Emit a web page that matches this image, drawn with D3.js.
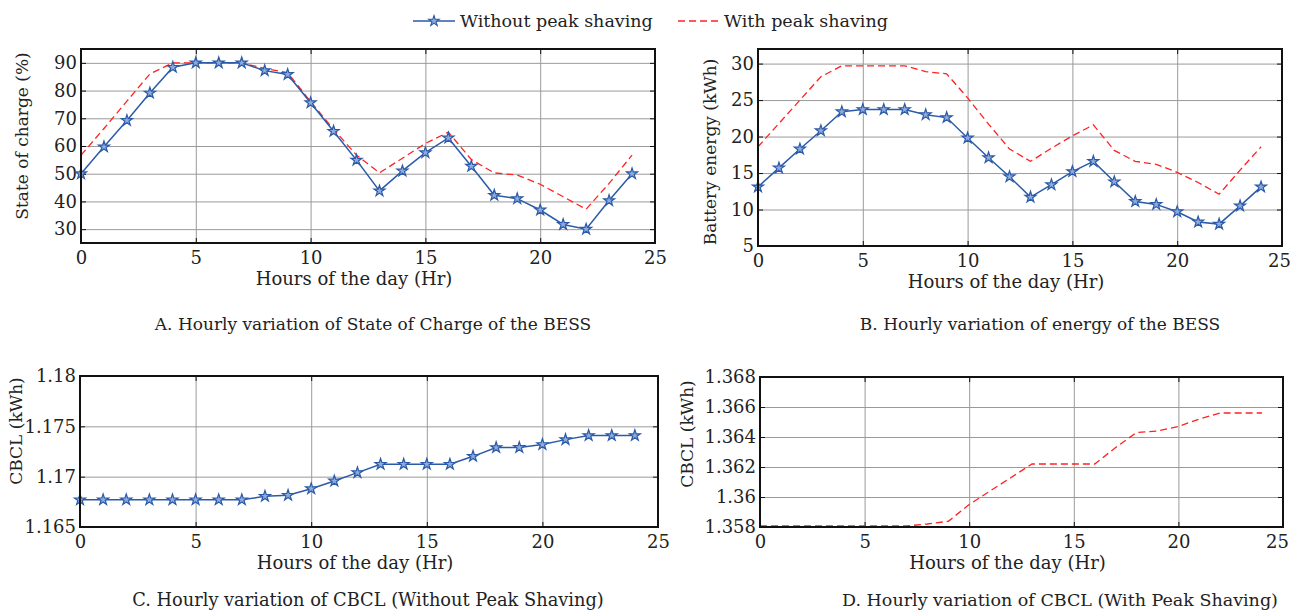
<!DOCTYPE html>
<html>
<head>
<meta charset="utf-8">
<script src="https://cdn.jsdelivr.net/npm/d3@7"></script>
<style>
  body { margin: 0; background: #fff; }
  svg { display: block; font-family: "DejaVu Serif", serif; }
</style>
</head>
<body>
<div id="container"></div>
<script>
// hours of the day
const hours = [0,1,2,3,4,5,6,7,8,9,10,11,12,13,14,15,16,17,18,19,20,21,22,23,24];

// A. state of charge (%)
const socWithout = [50.0,59.7,69.2,79.1,88.4,90.0,90.0,90.0,87.2,85.8,75.6,65.3,54.9,43.8,51.0,57.6,62.9,52.7,42.2,41.0,36.9,31.7,30.0,40.3,50.0];
const socWith    = [56.7,66.3,76.2,86.0,90.0,90.0,90.0,90.0,88.0,86.5,76.0,66.0,56.7,50.3,55.6,60.9,65.0,55.1,50.3,49.5,46.2,41.7,37.2,46.5,56.7];

// B. battery energy (kWh)
const energyWithout = [13.1,15.7,18.3,20.8,23.4,23.7,23.7,23.7,23.0,22.6,19.8,17.1,14.5,11.7,13.4,15.2,16.6,13.8,11.1,10.7,9.7,8.3,8.0,10.5,13.1];
const energyWith    = [18.6,21.8,25.0,28.2,29.7,29.7,29.7,29.7,28.9,28.6,25.3,21.7,18.3,16.6,18.4,20.1,21.6,18.1,16.6,16.2,15.1,13.7,12.1,15.4,18.6];

// C. CBCL without peak shaving (kWh)
const cbclWithout = [1.1677,1.1677,1.1677,1.1677,1.1677,1.1677,1.1677,1.1677,1.16805,1.16815,1.1688,1.16957,1.1704,1.17123,1.17123,1.17123,1.17123,1.17202,1.17289,1.1729,1.17319,1.17368,1.17408,1.17408,1.17408];
// D. CBCL with peak shaving (kWh)
const cbclWith = [1.35807,1.35807,1.35807,1.35807,1.35807,1.35807,1.35807,1.35807,1.3582,1.35838,1.3595,1.3604,1.3613,1.3622,1.3622,1.3622,1.3622,1.3633,1.3643,1.3644,1.3647,1.3652,1.3656,1.3656,1.3656];

// tick labels
const xTicks = [0,5,10,15,20,25];
const socTicks = [30,40,50,60,70,80,90];
const energyTicks = [5,10,15,20,25,30];
const cbclTicksC = [1.165,1.17,1.175,1.18];
const cbclLabelsC = ["1.165","1.17","1.175","1.18"];
const cbclTicksD = [1.358,1.36,1.362,1.364,1.366,1.368];
const cbclLabelsD = ["1.358","1.36","1.362","1.364","1.366","1.368"];

const width = 1292, height = 610;
const blue = "#2b5aa8", red = "#ff2222", textCol = "#222";

const svg = d3.select("#container").append("svg")
    .attr("width", width).attr("height", height)
    .attr("viewBox", `0 0 ${width} ${height}`);

function drawPanel(p) {
    const x = d3.scaleLinear().domain([0, 25]).range([p.left, p.right]);
    const y = d3.scaleLinear().domain(p.yDomain).range([p.bottom, p.top]);
    const g = svg.append("g");
    const h = p.bottom - p.top, w = p.right - p.left;

    // grid
    g.append("g").attr("transform", `translate(0,${p.bottom})`)
        .call(d3.axisBottom(x).tickValues(xTicks).tickSize(-h).tickFormat(""))
        .call(s => s.select(".domain").remove())
        .selectAll("line").attr("stroke", "#9a9a9a").attr("stroke-width", 1);
    g.append("g").attr("transform", `translate(${p.left},0)`)
        .call(d3.axisLeft(y).tickValues(p.yTicks).tickSize(-w).tickFormat(""))
        .call(s => s.select(".domain").remove())
        .selectAll("line").attr("stroke", "#9a9a9a").attr("stroke-width", 1);

    // axes with inward ticks
    const xa = g.append("g").attr("transform", `translate(0,${p.bottom})`)
        .call(d3.axisBottom(x).tickValues(xTicks).tickSize(-5).tickPadding(8).tickFormat(d3.format("d")));
    const ya = g.append("g").attr("transform", `translate(${p.left},0)`)
        .call(d3.axisLeft(y).tickValues(p.yTicks).tickSize(-5).tickPadding(4)
            .tickFormat((d, i) => p.yLabels ? p.yLabels[i] : d));
    g.append("g").attr("transform", `translate(0,${p.top})`)
        .call(d3.axisTop(x).tickValues(xTicks).tickSize(-5).tickFormat(""));
    g.append("g").attr("transform", `translate(${p.right},0)`)
        .call(d3.axisRight(y).tickValues(p.yTicks).tickSize(-5).tickFormat(""));
    g.selectAll(".domain").attr("stroke", "none");
    g.selectAll(".tick text").attr("fill", textCol).style("font-family", "DejaVu Serif").style("font-size", "18px");
    xa.selectAll(".tick text").filter(d => d === 25).attr("dx", p.lastDx || 0);
    g.selectAll(".tick line").filter(function () { return +d3.select(this).attr("stroke-width") !== 1; })
        .attr("stroke", "#111");

    // series
    const line = vals => d3.line().x((d, i) => x(hours[i])).y(d => y(d))(vals);
    if (p.red) {
        g.append("path").attr("d", line(p.red)).attr("fill", "none")
            .attr("stroke", red).attr("stroke-width", 1.3).attr("stroke-dasharray", "7,4");
    }
    if (p.blue) {
        g.append("path").attr("d", line(p.blue)).attr("fill", "none")
            .attr("stroke", blue).attr("stroke-width", 1.5);
        g.selectAll(".star").data(p.blue).enter().append("path")
            .attr("transform", (d, i) => `translate(${x(hours[i])},${y(d)})`)
            .attr("d", d3.symbol(d3.symbolStar).size(38))
            .attr("fill", "#8fabdd").attr("stroke", blue).attr("stroke-width", 1.2);
    }

    // frame
    g.append("rect").attr("x", p.left).attr("y", p.top).attr("width", w).attr("height", h)
        .attr("fill", "none").attr("stroke", "#111").attr("stroke-width", 2);

    // labels
    g.append("text").attr("x", (p.left + p.right) / 2 - 14).attr("y", p.bottom + 42)
        .attr("text-anchor", "middle").attr("fill", textCol).style("font-size", "18px")
        .text("Hours of the day (Hr)");
    g.append("text").attr("transform", `translate(${p.yLabelX},${p.yLabelY})rotate(-90)`)
        .attr("text-anchor", "middle").attr("dy", "0.35em").attr("fill", textCol).style("font-size", "17px")
        .text(p.yTitle);
    g.append("text").attr("x", p.capX).attr("y", p.capY)
        .attr("text-anchor", "middle").attr("fill", textCol).style("font-size", p.capSize || "17px")
        .text(p.caption);
}

drawPanel({left: 81, right: 655, top: 49, bottom: 243, yDomain: [25, 95], yTicks: socTicks,
    blue: socWithout, red: socWith, yTitle: "State of charge (%)", yLabelX: 22, yLabelY: 136,
    caption: "A. Hourly variation of State of Charge of the BESS", capX: 373, capY: 330});
drawPanel({left: 758, right: 1282, top: 49, bottom: 246, yDomain: [5, 32], yTicks: energyTicks,
    blue: energyWithout, red: energyWith, yTitle: "Battery energy (kWh)", yLabelX: 710, yLabelY: 152, lastDx: -3,
    caption: "B. Hourly variation of energy of the BESS", capX: 1040, capY: 330});
drawPanel({left: 80, right: 658, top: 376, bottom: 527, yDomain: [1.165, 1.18], yTicks: cbclTicksC, yLabels: cbclLabelsC,
    blue: cbclWithout, yTitle: "CBCL (kWh)", yLabelX: 16, yLabelY: 431, capSize: "17.8px",
    caption: "C. Hourly variation of CBCL (Without Peak Shaving)", capX: 368, capY: 606});
drawPanel({left: 760, right: 1283, top: 377, bottom: 527, yDomain: [1.358, 1.368], yTicks: cbclTicksD, yLabels: cbclLabelsD,
    red: cbclWith, yTitle: "CBCL (kWh)", yLabelX: 687, yLabelY: 434, lastDx: -6, capSize: "17.5px",
    caption: "D. Hourly variation of CBCL (With Peak Shaving)", capX: 1060, capY: 606});

// legend
const lg = svg.append("g").style("font-size", "17.5px");
lg.append("line").attr("x1", 413).attr("x2", 455).attr("y1", 21).attr("y2", 21)
    .attr("stroke", blue).attr("stroke-width", 1.5);
lg.append("path").attr("transform", "translate(434,21)").attr("d", d3.symbol(d3.symbolStar).size(34))
    .attr("fill", "#8fabdd").attr("stroke", blue).attr("stroke-width", 1.1);
lg.append("text").attr("x", 460).attr("y", 27).attr("fill", textCol).text("Without peak shaving");
lg.append("line").attr("x1", 678).attr("x2", 720).attr("y1", 21).attr("y2", 21)
    .attr("stroke", red).attr("stroke-width", 1.3).attr("stroke-dasharray", "7,4");
lg.append("text").attr("x", 724).attr("y", 27).attr("fill", textCol).text("With peak shaving");
</script>
</body>
</html>
